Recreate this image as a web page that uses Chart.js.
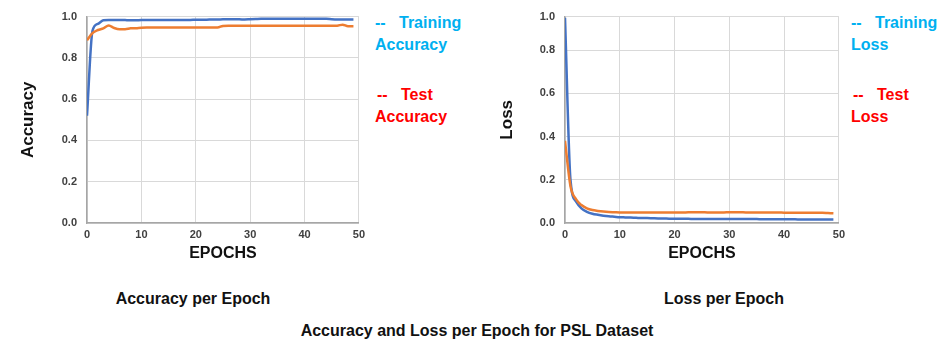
<!DOCTYPE html>
<html>
<head>
<meta charset="utf-8">
<script src="https://cdn.jsdelivr.net/npm/chart.js@4.4.1/dist/chart.umd.min.js"></script>
<style>
  body { margin: 0; background: #fff; }
  #wrap { position: relative; width: 948px; height: 343px; overflow: hidden;
          font-family: 'Liberation Sans', Arial, sans-serif; font-weight: bold; }
  .box { position: absolute; }
  .txt { position: absolute; white-space: nowrap; line-height: 1; }
  .cyan { color: #00B0F0; font-size: 16px; }
  .red { color: #FF0000; font-size: 16px; }
  .cap { color: #111; font-size: 16px; transform: translateX(-50%); }
</style>
</head>
<body>
<div id="wrap">
  <div class="box" style="left:0;top:0;width:370px;height:265px;"><canvas id="accChart"></canvas></div>
  <div class="box" style="left:480px;top:0;width:370px;height:265px;"><canvas id="lossChart"></canvas></div>

  <div class="txt cyan" style="left:375px;top:15px;">--&nbsp;&nbsp;&nbsp;Training</div>
  <div class="txt cyan" style="left:375px;top:37px;">Accuracy</div>
  <div class="txt red" style="left:377px;top:87px;">--&nbsp;&nbsp;&nbsp;Test</div>
  <div class="txt red" style="left:375px;top:109px;">Accuracy</div>

  <div class="txt cyan" style="left:851px;top:15px;">--&nbsp;&nbsp;&nbsp;Training</div>
  <div class="txt cyan" style="left:851px;top:37px;">Loss</div>
  <div class="txt red" style="left:853px;top:87px;">--&nbsp;&nbsp;&nbsp;Test</div>
  <div class="txt red" style="left:851px;top:109px;">Loss</div>

  <div class="txt cap" style="left:193px;top:291px;">Accuracy per Epoch</div>
  <div class="txt cap" style="left:724px;top:291px;">Loss per Epoch</div>
  <div class="txt cap" style="left:477px;top:323px;">Accuracy and Loss per Epoch for PSL Dataset</div>
</div>
<script>
const epochs = [0,1,2,3,4,5,6,7,8,9,10,11,12,13,14,15,16,17,18,19,20,21,22,23,24,
  25,26,27,28,29,30,31,32,33,34,35,36,37,38,39,40,41,42,43,44,45,46,47,48,49];

const trainAcc = [0.52,0.93,0.965,0.982,0.984,0.984,0.984,0.983,0.982,0.982,
  0.983,0.983,0.983,0.983,0.984,0.984,0.984,0.984,0.984,0.984,
  0.985,0.985,0.985,0.986,0.986,0.987,0.987,0.987,0.987,0.986,
  0.987,0.988,0.989,0.989,0.989,0.989,0.989,0.989,0.989,0.989,
  0.989,0.989,0.989,0.989,0.989,0.987,0.986,0.986,0.986,0.986];

const testAcc = [0.885,0.92,0.935,0.943,0.957,0.945,0.939,0.939,0.943,0.944,
  0.946,0.947,0.947,0.947,0.947,0.947,0.947,0.947,0.947,0.947,
  0.947,0.947,0.947,0.947,0.947,0.955,0.956,0.956,0.956,0.956,
  0.956,0.956,0.956,0.956,0.956,0.956,0.956,0.956,0.956,0.956,
  0.956,0.956,0.956,0.956,0.956,0.956,0.956,0.961,0.953,0.953];

const trainLoss = [0.95,0.2,0.1,0.068,0.052,0.043,0.038,0.034,0.031,0.029,
  0.027,0.026,0.025,0.024,0.023,0.023,0.022,0.021,0.021,0.02,
  0.02,0.02,0.02,0.019,0.019,0.019,0.019,0.019,0.018,0.018,
  0.018,0.018,0.018,0.018,0.018,0.018,0.017,0.017,0.017,0.017,
  0.017,0.017,0.017,0.016,0.016,0.016,0.016,0.016,0.016,0.016];

const testLoss = [0.38,0.17,0.11,0.083,0.068,0.06,0.056,0.053,0.051,0.05,
  0.049,0.049,0.049,0.049,0.049,0.049,0.049,0.049,0.049,0.049,
  0.049,0.049,0.049,0.05,0.05,0.05,0.049,0.049,0.049,0.049,
  0.05,0.05,0.05,0.049,0.049,0.049,0.049,0.049,0.049,0.049,
  0.048,0.048,0.048,0.048,0.048,0.048,0.047,0.047,0.046,0.045];

const xTicks = [0,10,20,30,40,50];
const accTicks = [0,0.2,0.4,0.6,0.8,1.0];
const lossTicks = [0,0.2,0.4,0.6,0.8,0.955];

const FONT = "'Liberation Sans', Arial, sans-serif";
const BLUE = '#4472C4';
const ORANGE = '#ED7D31';

function series(vals) {
  return vals.map((v, i) => ({ x: epochs[i], y: v }));
}

function makeChart(id, yTitle, train, test, yMax, yTickVals, padLeft, axisWidth) {
  const ctx = document.getElementById(id).getContext('2d');
  return new Chart(ctx, {
    type: 'line',
    data: {
      datasets: [
        { data: series(test), borderColor: ORANGE, borderWidth: 2.5, pointRadius: 0,
          cubicInterpolationMode: 'monotone' },
        { data: series(train), borderColor: BLUE, borderWidth: 2.5, pointRadius: 0,
          cubicInterpolationMode: 'monotone' }
      ]
    },
    options: {
      responsive: true,
      maintainAspectRatio: false,
      animation: false,
      layout: { padding: { left: padLeft, top: 13, right: 5, bottom: 0 } },
      plugins: { legend: { display: false }, tooltip: { enabled: false } },
      scales: {
        x: {
          type: 'linear', min: 0, max: 50,
          afterBuildTicks: s => { s.ticks = xTicks.map(v => ({ value: v })); },
          afterFit: s => { s.height = 42; },
          grid: { color: '#d9d9d9', drawTicks: false },
          border: { color: '#a6a6a6', width: 1.5 },
          ticks: { padding: 5, color: '#404040', font: { family: FONT, size: 11, weight: 'bold' } },
          title: { display: true, text: 'EPOCHS', color: '#111', padding: { top: 4, bottom: 2 },
                   font: { family: FONT, size: 16, weight: 'bold' } }
        },
        y: {
          min: 0, max: yMax,
          afterBuildTicks: s => { s.ticks = yTickVals.map(v => ({ value: v })); },
          afterFit: s => { s.width = axisWidth; },
          grid: { color: '#d9d9d9', drawTicks: false },
          border: { color: '#a6a6a6', width: 1.5 },
          ticks: { padding: 10, color: '#404040', font: { family: FONT, size: 11, weight: 'bold' },
                   callback: v => (v > 0.9 ? '1.0' : v.toFixed(1)) },
          title: { display: true, text: yTitle, color: '#111', padding: 0,
                   font: { family: FONT, size: 17, weight: 'bold' } }
        }
      }
    }
  });
}

makeChart('accChart', 'Accuracy', trainAcc, testAcc, 1.0, accTicks, 18, 69);
makeChart('lossChart', 'Loss', trainLoss, testLoss, 0.955, lossTicks, 17, 68);
</script>
</body>
</html>
